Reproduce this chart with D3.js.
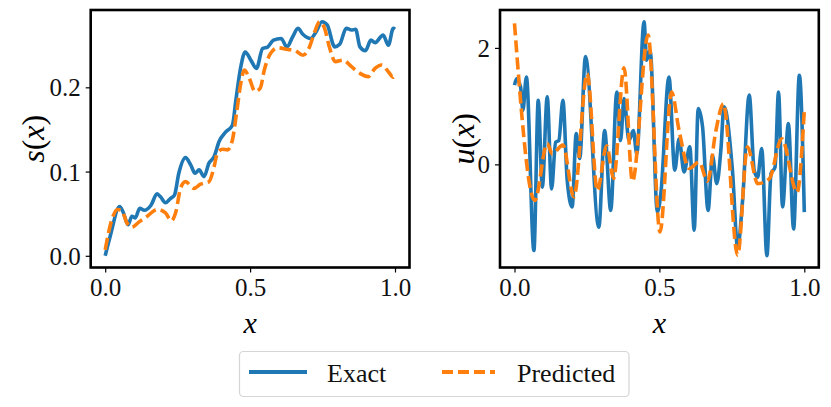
<!DOCTYPE html>
<html>
<head>
<meta charset="utf-8">
<script src="https://cdn.jsdelivr.net/npm/d3@7"></script>
<style>
  body { margin: 0; background: #fff; }
</style>
</head>
<body>
<div id="chart-area"></div>
<script>
// s(x) panel
const sX = [0, 0.017, 0.05, 0.061, 0.079, 0.092, 0.104, 0.119, 0.135, 0.158, 0.179, 0.191, 0.208, 0.225, 0.239,
  0.254, 0.277, 0.295, 0.310, 0.324, 0.341, 0.358, 0.376, 0.393, 0.416, 0.439, 0.451, 0.468, 0.483, 0.503,
  0.522, 0.543, 0.561, 0.581, 0.607, 0.627, 0.647, 0.665, 0.682, 0.709, 0.728, 0.748, 0.766, 0.792, 0.809,
  0.832, 0.850, 0.864, 0.879, 0.898, 0.917, 0.931, 0.959, 0.977, 0.994, 1.0]
const sExact = [0, 0.023, 0.0585, 0.0526, 0.0368, 0.047, 0.045, 0.0565, 0.054, 0.060, 0.0735, 0.070, 0.063, 0.068, 0.072,
  0.098, 0.1166, 0.108, 0.098, 0.102, 0.094, 0.110, 0.1178, 0.1356, 0.147, 0.155, 0.185, 0.2245, 0.242, 0.232,
  0.2225, 0.246, 0.248, 0.256, 0.258, 0.248, 0.260, 0.270, 0.263, 0.258, 0.266, 0.2779, 0.274, 0.248, 0.251,
  0.270, 0.268, 0.269, 0.248, 0.2435, 0.256, 0.253, 0.262, 0.250, 0.270, 0.269]

const sPX = [0, 0.023, 0.043, 0.058, 0.075, 0.092, 0.116, 0.145, 0.179, 0.208, 0.228, 0.243, 0.260, 0.277, 0.306,
  0.329, 0.358, 0.376, 0.387, 0.405, 0.422, 0.439, 0.453, 0.468, 0.480, 0.497, 0.517, 0.535, 0.549, 0.570,
  0.595, 0.630, 0.653, 0.682, 0.705, 0.723, 0.740, 0.757, 0.775, 0.794, 0.821, 0.850, 0.879, 0.908, 0.931,
  0.954, 0.977, 0.994, 1.0]
const sPred = [0.007, 0.043, 0.055, 0.053, 0.039, 0.034, 0.040, 0.047, 0.055, 0.051, 0.0415, 0.051, 0.080, 0.088, 0.080,
  0.085, 0.088, 0.106, 0.122, 0.1265, 0.1257, 0.1375, 0.169, 0.205, 0.2205, 0.211, 0.195, 0.199, 0.2205, 0.240,
  0.247, 0.245, 0.244, 0.238, 0.248, 0.266, 0.2779, 0.270, 0.246, 0.2305, 0.2324, 0.2245, 0.2166, 0.2127, 0.2225,
  0.2265, 0.2186, 0.212, 0.2166]

// u(x) panel
const uX = [0, 0.007, 0.021, 0.029, 0.041, 0.067, 0.082, 0.096, 0.113, 0.128, 0.142, 0.153, 0.167, 0.182, 0.199,
  0.213, 0.225, 0.245, 0.291, 0.311, 0.332, 0.353, 0.366, 0.378, 0.395, 0.410, 0.422, 0.447, 0.456, 0.468,
  0.493, 0.505, 0.533, 0.553, 0.568, 0.585, 0.605, 0.620, 0.634, 0.649, 0.668, 0.683, 0.698, 0.712, 0.723,
  0.752, 0.770, 0.787, 0.810, 0.827, 0.839, 0.853, 0.871, 0.885, 0.899, 0.911, 0.925, 0.945, 0.963, 0.983, 1.0]
const uExact = [1.36, 1.47, 1.33, 0.93, 1.50, -1.48, 1.10, -0.39, 1.16, -0.42, 0.38, 0.41, 1.10, -0.28, -0.73,
  0.53, 0.10, 1.85, -1.08, 0.58, -0.79, 1.24, 0.41, 1.13, 0.41, 0.58, 0.18, 2.45, 1.79, 1.96,
  -0.82, -0.50, 1.50, -0.10, 0.44, -0.13, 0.30, -1.13, 0.96, 0.64, -0.79, 0.15, -0.33, 0.24, 0.99,
  -0.10, -1.42, -0.62, 1.19, -0.10, -0.22, 0.27, -1.57, -0.16, -0.05, 1.24, -0.73, 0.70, -1.11, 1.53, -0.82]

const uPX = [0, 0.070, 0.113, 0.130, 0.167, 0.205, 0.251, 0.286, 0.318, 0.342, 0.378, 0.407, 0.461, 0.502, 0.542,
  0.568, 0.603, 0.637, 0.666, 0.695, 0.721, 0.770, 0.804, 0.839, 0.879, 0.922, 0.975, 1.0]
const uPred = [2.42, -0.62, 0.36, 0.18, 0.33, -0.56, 1.56, -0.45, 0.32, -0.24, 1.66, -0.29, 2.22, -1.16, 1.24,
  0.58, -0.07, 0.04, -0.29, 0.58, 1.04, -1.56, 0.30, -0.33, -0.25, 0.44, -0.48, 0.93]

const xTicks = [0, 0.5, 1.0]
const sTicks = [0, 0.1, 0.2]
const uTicks = [0, 2]
const legendLabels = ["Exact", "Predicted"]

const BLUE = "#1f77b4"
const ORANGE = "#ff7f0e"
const FONT = "Liberation Serif"

const W = 831, H = 407
const svg = d3.select("#chart-area").append("svg")
  .attr("width", W)
  .attr("height", H)
  .attr("font-family", FONT)

// pad like matplotlib autoscale (5%)
function padded(vals) {
  const [lo, hi] = d3.extent(vals)
  const m = (hi - lo) * 0.05
  return [lo - m, hi + m]
}

function styleTicks(a, dy) {
  a.select(".domain").remove()
  a.attr("font-family", FONT)
  a.selectAll("line").attr("stroke", "#000").attr("stroke-width", 1.2)
  a.selectAll("text")
    .attr("font-size", "25px")
    .attr("fill", "#111")
    .attr("dy", dy)
}

function panel(opts) {
  const { left, right, top, bottom } = opts
  const x = d3.scaleLinear().domain([-0.05, 1.05]).range([left, right])
  const y = d3.scaleLinear().domain(padded(opts.ys.flat())).range([bottom, top])

  const g = svg.append("g")

  const line = d3.line()
    .x(d => x(d[0]))
    .y(d => y(d[1]))
    .curve(d3.curveMonotoneX)

  g.append("path")
    .datum(d3.zip(opts.xe, opts.ye))
    .attr("d", line)
    .attr("fill", "none")
    .attr("stroke", BLUE)
    .attr("stroke-width", 3.6)
    .attr("stroke-linejoin", "round")

  g.append("path")
    .datum(d3.zip(opts.xp, opts.yp))
    .attr("d", line)
    .attr("fill", "none")
    .attr("stroke", ORANGE)
    .attr("stroke-width", 3.6)
    .attr("stroke-dasharray", "12,5")

  // axes
  const xAxis = d3.axisBottom(x).tickValues(xTicks).tickFormat(d3.format(".1f")).tickSize(5).tickPadding(5)
  g.append("g")
    .attr("transform", `translate(0, ${bottom})`)
    .call(xAxis)
    .call(a => styleTicks(a, "0.72em"))

  const yAxis = d3.axisLeft(y).tickValues(opts.yTicks).tickFormat(opts.yFmt).tickSize(5).tickPadding(5)
  g.append("g")
    .attr("transform", `translate(${left}, 0)`)
    .call(yAxis)
    .call(a => styleTicks(a, "0.34em"))

  // frame
  g.append("rect")
    .attr("x", left).attr("y", top)
    .attr("width", right - left).attr("height", bottom - top)
    .attr("fill", "none")
    .attr("stroke", "#000")
    .attr("stroke-width", 2.6)

  // x label
  g.append("text")
    .attr("x", (left + right) / 2)
    .attr("y", 333)
    .attr("text-anchor", "middle")
    .attr("font-size", "30px")
    .attr("font-style", "italic")
    .text("x")

  // y label
  const yl = g.append("text")
    .attr("transform", `translate(${opts.ylabX}, ${(top + bottom) / 2}) rotate(-90)`)
    .attr("text-anchor", "middle")
    .attr("font-size", "32px")
  yl.append("tspan").attr("font-style", "italic").text(opts.ylab)
  yl.append("tspan").text("(")
  yl.append("tspan").attr("font-style", "italic").text("x")
  yl.append("tspan").text(")")
}

panel({
  left: 90.7, right: 409.5, top: 10, bottom: 267.5,
  xe: sX, ye: sExact, xp: sPX, yp: sPred, ys: [sExact, sPred],
  yTicks: sTicks, yFmt: d3.format(".1f"), ylab: "s", ylabX: 44
})

panel({
  left: 500, right: 818.8, top: 10, bottom: 267.5,
  xe: uX, ye: uExact, xp: uPX, yp: uPred, ys: [uExact, uPred],
  yTicks: uTicks, yFmt: d3.format("d"), ylab: "u", ylabX: 474
})

// legend
const lg = svg.append("g")
lg.append("rect")
  .attr("x", 239.5).attr("y", 351.5)
  .attr("width", 389.5).attr("height", 45)
  .attr("rx", 4)
  .attr("fill", "#fff")
  .attr("stroke", "#d5d5d5")
  .attr("stroke-width", 1.2)

const items = [
  { label: legendLabels[0], color: BLUE, dash: null, x0: 249, x1: 307, tx: 327 },
  { label: legendLabels[1], color: ORANGE, dash: "11,5", x0: 442, x1: 495, tx: 517 }
]
items.forEach(it => {
  lg.append("line")
    .attr("x1", it.x0).attr("x2", it.x1)
    .attr("y1", 372).attr("y2", 372)
    .attr("stroke", it.color)
    .attr("stroke-width", 3.8)
    .attr("stroke-dasharray", it.dash)
  lg.append("text")
    .attr("x", it.tx).attr("y", 381.5)
    .attr("font-size", "26px")
    .attr("fill", "#111")
    .text(it.label)
})
</script>
</body>
</html>
